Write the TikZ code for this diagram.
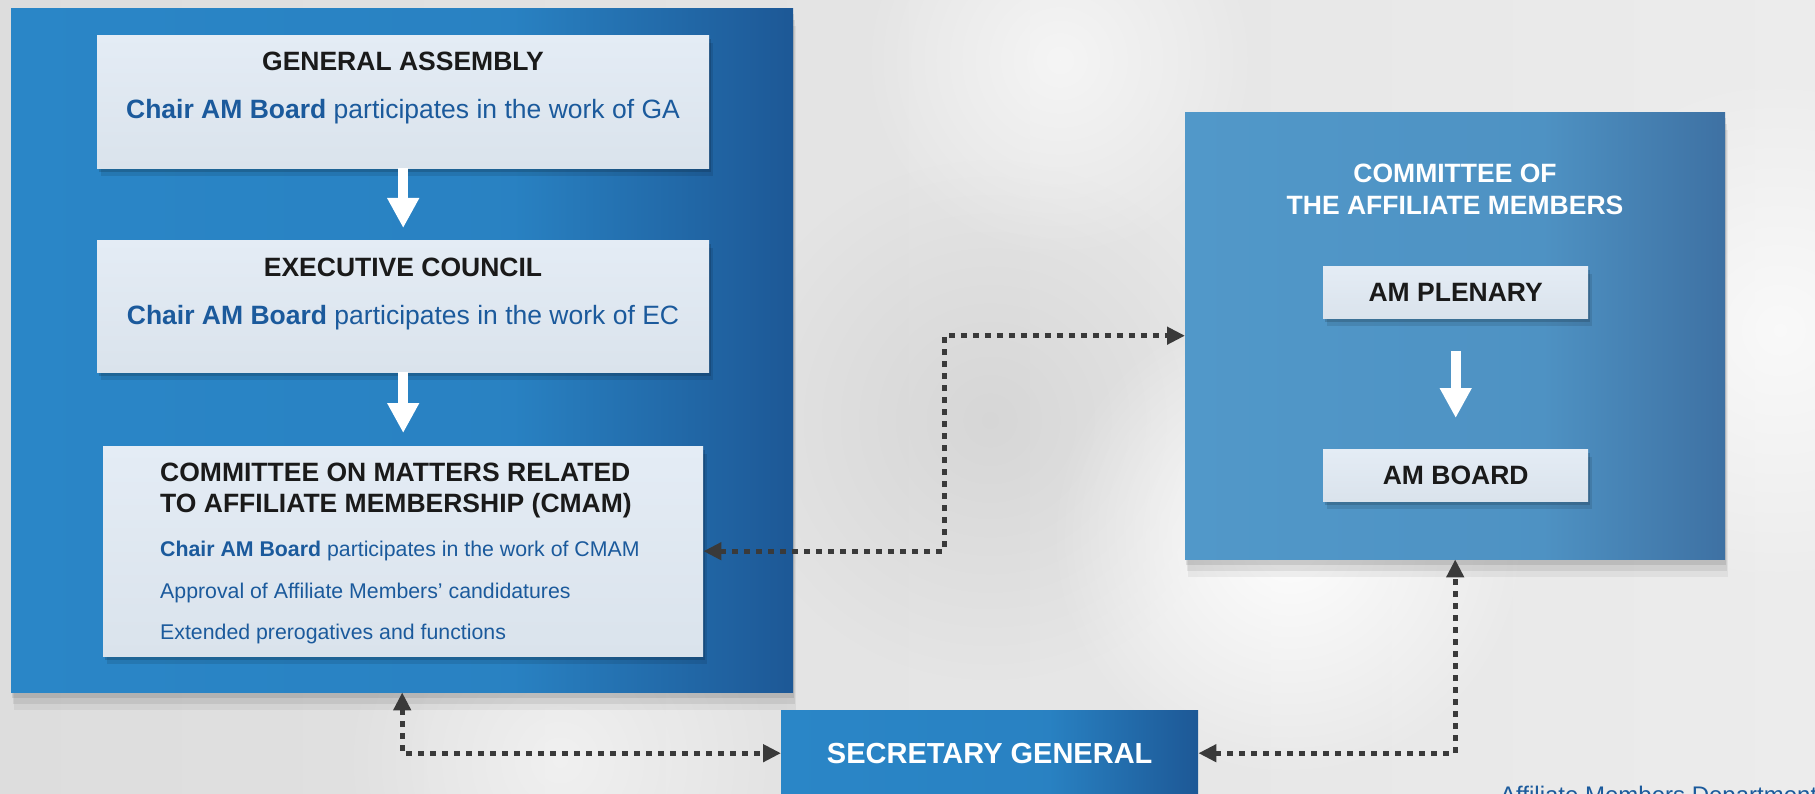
\documentclass[tikz,border=0pt]{standalone}
\usepackage{fontspec}
\setmainfont{Liberation Sans}
\usetikzlibrary{arrows.meta,shadows,fadings,calc}

\definecolor{panelblue}{HTML}{2A86C7}
\definecolor{paneldark}{HTML}{1D5896}
\definecolor{camblue}{HTML}{5198C9}
\definecolor{camdark}{HTML}{3E71A3}
\definecolor{boxtop}{HTML}{E4ECF5}
\definecolor{boxbottom}{HTML}{DAE3EC}
\definecolor{textblue}{HTML}{1B5A9C}
\definecolor{headblack}{HTML}{1A1A1A}
\definecolor{linkgray}{HTML}{3A3A3A}
\definecolor{bgleft}{HTML}{DDDDDD}
\definecolor{bgright}{HTML}{ECECEC}
\definecolor{bokehgray}{HTML}{C8C8C8}

\pgfdeclarehorizontalshading{leftpanel}{100bp}{color(0bp)=(panelblue); color(25bp)=(panelblue);
  color(57bp)=(panelblue!90!paneldark); color(75bp)=(paneldark); color(100bp)=(paneldark)}
\pgfdeclarehorizontalshading{rightpanel}{100bp}{color(0bp)=(camblue); color(25bp)=(camblue);
  color(58bp)=(camblue!85!camdark); color(75bp)=(camdark); color(100bp)=(camdark)}
\tikzfading[name=softdisc, inner color=transparent!0, outer color=transparent!100]

\newcommand\amhead{\fontsize{26.5}{32}\selectfont\bfseries}
\newcommand\ambody{\fontsize{26.5}{32}\selectfont}
\newcommand\amsmall{\fontsize{21.3}{26}\selectfont}
\newcommand\amsg{\fontsize{29}{35}\selectfont\bfseries}
\newcommand\amfoot{\fontsize{24}{29}\selectfont}

\tikzset{
        panelshadow/.style={drop shadow={shadow xshift=3pt, shadow yshift=-18pt, opacity=.05, fill=black},
          drop shadow={shadow xshift=2pt, shadow yshift=-12pt, opacity=.07, fill=black},
          drop shadow={shadow xshift=1pt, shadow yshift=-6pt, opacity=.09, fill=black}},
        boxshadow/.style={drop shadow={shadow xshift=4pt, shadow yshift=-8pt, opacity=.1, fill=black},
          drop shadow={shadow xshift=2pt, shadow yshift=-4pt, opacity=.15, fill=black}},
        lpanel/.style={anchor=north west, inner sep=0pt, shading=leftpanel, panelshadow},
        rpanel/.style={anchor=north west, inner sep=0pt, shading=rightpanel, panelshadow},
        sgbox/.style={anchor=north west, inner sep=0pt, shading=leftpanel, font=\amsg, text=white},
        lightbox/.style={anchor=north west, inner sep=0pt, top color=boxtop, bottom color=boxbottom, boxshadow},
        headtxt/.style={font=\amhead, text=headblack, inner sep=0pt, anchor=base},
        bodytxt/.style={font=\ambody, text=textblue, inner sep=0pt, anchor=base},
        smalltxt/.style={font=\amsmall, text=textblue, inner sep=0pt, anchor=base west},
        titletxt/.style={font=\amhead, text=white, inner sep=0pt, anchor=base},
        whitearrow/.style={draw=white, line width=10pt, -{Triangle[length=30pt,width=30pt]}},
        dotlink/.style={draw=linkgray, line width=5pt, dash pattern=on 6pt off 6pt,
          {Triangle[length=18pt,width=17pt]}-{Triangle[length=18pt,width=17pt]}},
        bokeh/.style={path fading=softdisc}
          }

\begin{document}
\begin{tikzpicture}[x=1pt,y=-1pt]
        \useasboundingbox (0,0) rectangle (1815,794);
        \clip (0,0) rectangle (1815,794);
        % backdrop
        \fill[left color=bgleft, right color=bgright] (0,0) rectangle (1815,794);
        \fill[bokehgray, bokeh, opacity=.5] (990,420) circle (260);
        \fill[white, bokeh, opacity=.95] (1290,540) circle (240);
        \fill[white, bokeh, opacity=.7] (1780,330) circle (260);
        \fill[white, bokeh, opacity=.6] (1060,60) circle (200);
        \fill[white, bokeh, opacity=.5] (560,760) circle (220);

        % left column
        \node[lpanel, minimum width=782, minimum height=684] (lpanel) at (11,8) {};
        \node[lightbox, minimum width=612, minimum height=133] (ga) at (97,35) {};
        \node[headtxt] (gahead) at (403,70.5) {GENERAL ASSEMBLY};
        \node[bodytxt] (gabody) at (403,118.5) {\textbf{Chair AM Board} participates in the work of GA};
        \node[lightbox, minimum width=612, minimum height=132] (ec) at (97,240) {};
        \node[headtxt] (echead) at (403,276.5) {EXECUTIVE COUNCIL};
        \node[bodytxt] (ecbody) at (403,324.5) {\textbf{Chair AM Board} participates in the work of EC};
        \node[lightbox, minimum width=600, minimum height=210] (cmam) at (103,446) {};
        \node[headtxt, anchor=base west] (cmhead1) at (160,481.5) {COMMITTEE ON MATTERS RELATED};
        \node[headtxt, anchor=base west] (cmhead2) at (160,512.5) {TO AFFILIATE MEMBERSHIP (CMAM)};
        \node[smalltxt] (cmchair) at (160,556.6) {\textbf{Chair AM Board} participates in the work of CMAM};
        \node[smalltxt] (cmapproval) at (160,598.6) {Approval of Affiliate Members’ candidatures};
        \node[smalltxt] (cmextended) at (160,639.6) {Extended prerogatives and functions};
        \draw[whitearrow, shorten >=12pt] (ga) -- (ec);
        \draw[whitearrow, shorten >=13pt] (ec) -- (cmam);

        % committee of the affiliate members
        \node[rpanel, minimum width=540, minimum height=447] (rpanel) at (1185,112) {};
        \node[titletxt] (camtitle1) at (1455,182.5) {COMMITTEE OF};
        \node[titletxt] (camtitle2) at (1455,214.5) {THE AFFILIATE MEMBERS};
        \node[lightbox, minimum width=265, minimum height=52, font=\amhead, text=headblack] (plenary) at (1323,266) {AM PLENARY};
        \node[lightbox, minimum width=265, minimum height=52, font=\amhead, text=headblack] (board) at (1323,449) {AM BOARD};
        \draw[whitearrow, shorten <=33pt, shorten >=31pt] (plenary) -- (board);

        % secretary general
        \node[sgbox, minimum width=417, minimum height=86] (sg) at (781,710) {SECRETARY GENERAL};
        \node[font=\amfoot, text=textblue, inner sep=0pt, anchor=base west] (dept) at (1500,803) {Affiliate Members Department};

        % links
        \coordinate (mid) at ($(cmam.east)!.5!(rpanel.west)$);
        \draw[dotlink] (cmam.east) -- (cmam.east -| mid) -- (rpanel.west -| mid) -- (rpanel.west);
        \draw[dotlink] (lpanel.south) |- (sg.west);
        \draw[dotlink] (sg.east) -| (rpanel.south);
\end{tikzpicture}
\end{document}
